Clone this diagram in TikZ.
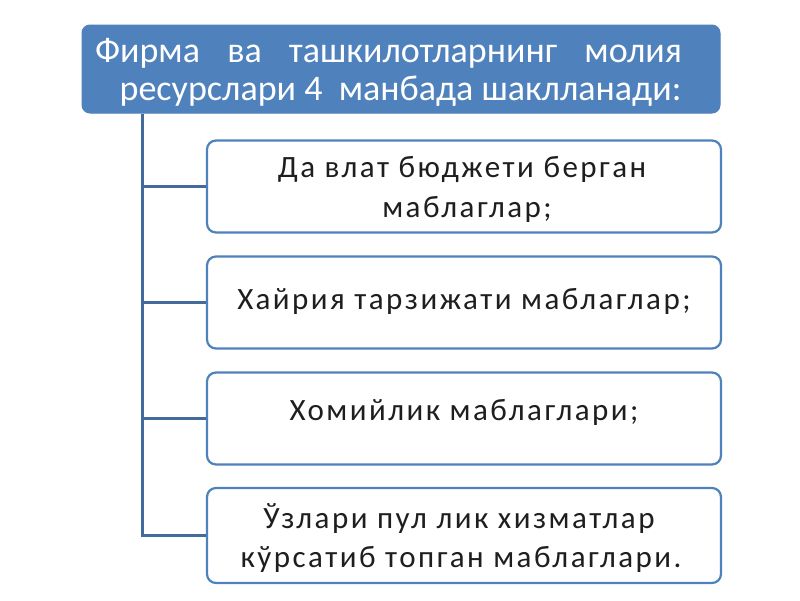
\documentclass[tikz,border=0pt]{standalone}
\usepackage{fontspec}
\setmainfont{Carlito}
\newfontfamily\itemfont[LetterSpace=8]{Carlito}
\definecolor{topblue}{HTML}{4F81BD}
\definecolor{connblue}{HTML}{44699B}
\definecolor{txt}{HTML}{1E1E1E}
\begin{document}
\begin{tikzpicture}[x=1pt,y=-1pt,
  topbox/.style={draw=topblue,fill=topblue,rounded corners=8pt,line width=1pt,minimum width=638pt,minimum height=88pt,inner sep=0pt},
  toptext/.style={text=white,font=\fontsize{36}{38}\selectfont,inner sep=0pt,anchor=base},
  itembox/.style={draw=topblue,fill=white,rounded corners=9pt,line width=2.2pt,minimum width=514pt,minimum height=92pt,inner sep=0pt},
  itemtext/.style={text=txt,font=\itemfont\fontsize{31}{39}\selectfont,inner sep=0pt,anchor=base},
  conn/.style={draw=connblue,line width=2.4pt}]
\useasboundingbox (0,0) rectangle (800,600);
\fill[white] (0,0) rectangle (800,600);
\node[topbox] (top) at (401,69) {};
\node[toptext] (t1) at (388.5,62) {\makebox[587pt][s]{Фирма ва ташкилотларнинг молия}};
\node[toptext] (t2) at (400.5,100) {ресурслари 4\ \ манбада шаклланади:};
\node[itembox] (b1) at (464,186.5) {};
\node[itembox] (b2) at (464,302.5) {};
\node[itembox] (b3) at (464,418.5) {};
\node[itembox,minimum height=95pt] (b4) at (464,535.5) {};
\node[itemtext] (l1a) at (462,177) {Да влат бюджети берган};
\node[itemtext] (l1b) at (467,217) {маблаглар;};
\node[itemtext] (l2) at (464,309) {Хайрия тарзижати маблаглар;};
\node[itemtext] (l3) at (464,420) {Хомийлик маблаглари;};
\node[itemtext] (l4a) at (459,528) {Ўзлари пул лик хизматлар};
\node[itemtext] (l4b) at (461,567) {кўрсатиб топган маблаглари.};
\coordinate (trunk) at ([xshift=61pt]top.south west);
\draw[conn] (trunk) |- (b1.west);
\draw[conn] (trunk) |- (b2.west);
\draw[conn] (trunk) |- (b3.west);
\draw[conn] (trunk) |- (b4.west);
\end{tikzpicture}
\end{document}
